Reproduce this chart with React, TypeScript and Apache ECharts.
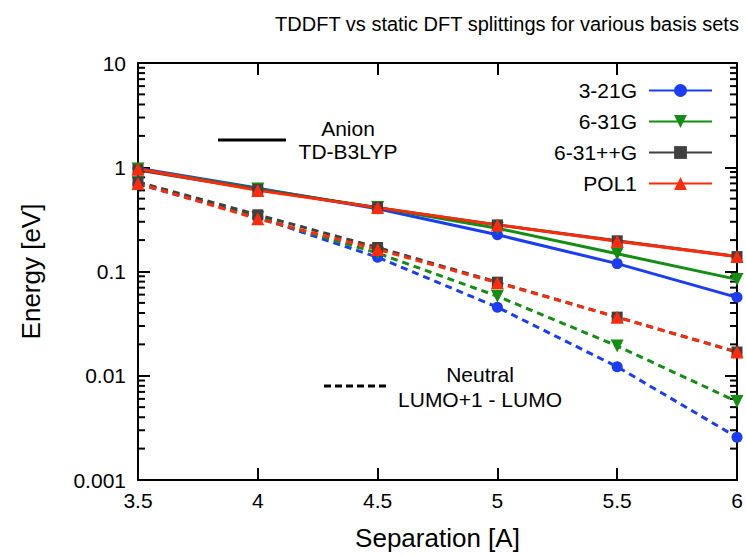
import React, { useEffect, useRef } from 'react';
import * as echarts from 'echarts';

const separations = [3.5, 4, 4.5, 5, 5.5, 6];
const basisNames = ['3-21G', '6-31G', '6-31++G', 'POL1'];

// Anion TD-B3LYP (solid)
const anion321G = [0.98, 0.63, 0.4, 0.225, 0.119, 0.0565];
const anion631G = [0.96, 0.62, 0.41, 0.26, 0.148, 0.084];
const anion631ppG = [0.94, 0.61, 0.41, 0.28, 0.197, 0.139];
const anionPOL1 = [0.96, 0.6, 0.41, 0.28, 0.195, 0.139];

// Neutral LUMO+1 - LUMO (dashed)
const neutral321G = [0.69, 0.33, 0.137, 0.0454, 0.0122, 0.00257];
const neutral631G = [0.71, 0.33, 0.15, 0.058, 0.0193, 0.00565];
const neutral631ppG = [0.72, 0.35, 0.17, 0.079, 0.0365, 0.0169];
const neutralPOL1 = [0.7, 0.32, 0.163, 0.078, 0.0365, 0.0169];

const anionSets = [anion321G, anion631G, anion631ppG, anionPOL1];
const neutralSets = [neutral321G, neutral631G, neutral631ppG, neutralPOL1];

const xTickLabels = ['3.5', '4', '4.5', '5', '5.5', '6'];
const yTickLabels = ['0.001', '0.01', '0.1', '1', '10'];
const yDecades = [0.001, 0.01, 0.1, 1];
const minorMultipliers = [2, 3, 4, 5, 6, 7, 8, 9];

const colors = ['#1a3cf5', '#138e13', '#404040', '#ff2a0a'];
const symbols = ['circle', 'triangle', 'rect', 'triangle'];
const symbolRotates = [0, 180, 0, 0];
const symbolSizes = [11, 13, 11, 13];

const FONT = 'Liberation Sans, Arial, sans-serif';

export default function App() {
  const ref = useRef<HTMLDivElement>(null);
  useEffect(() => {
    document.body.style.margin = '0';
    if (!ref.current) return;
    const chart = echarts.init(ref.current, undefined, { renderer: 'svg' });
    const xMin = 3.5;
    const xMax = 6;
    const minorTicks: number[] = [];
    yDecades.forEach((d) => minorMultipliers.forEach((m) => minorTicks.push(d * m)));

    const makeSeries = (sets: number[][], dashed: boolean) =>
      sets.map((vals, i) => ({
        type: 'line',
        name: dashed ? basisNames[i] + ' (neutral)' : basisNames[i],
        data: separations.map((x, j) => [x, vals[j]]),
        symbol: symbols[i],
        symbolRotate: symbolRotates[i],
        symbolSize: symbolSizes[i],
        showAllSymbol: true,
        clip: false,
        itemStyle: { color: colors[i] },
        lineStyle: { color: colors[i], width: 3, type: dashed ? [7, 5] : 'solid' },
        z: dashed ? 2 : 3,
      }));

    const axisLine = { show: true, lineStyle: { color: '#000', width: 2 } };
    const tick = { show: true, inside: true, length: 12, lineStyle: { color: '#000', width: 2 } };
    const txt = (text: string, x: number, y: number) => ({
      type: 'text',
      x,
      y,
      style: { text, fontFamily: FONT, fontSize: 21, fill: '#000', textAlign: 'center', textVerticalAlign: 'middle' },
    });

    chart.setOption({
      animation: false,
      backgroundColor: '#fff',
      title: {
        text: 'TDDFT vs static DFT splittings for various basis sets',
        left: 502,
        top: 9,
        textAlign: 'center',
        textStyle: { fontFamily: FONT, fontSize: 20, fontWeight: 'normal', color: '#000' },
      },
      legend: {
        data: basisNames,
        orient: 'vertical',
        right: 33,
        top: 80,
        padding: 0,
        align: 'right',
        itemWidth: 63,
        itemHeight: 16,
        itemGap: 10,
        textStyle: { fontFamily: FONT, fontSize: 21, color: '#000', padding: [0, 7, 0, 0] },
      },
      grid: { left: 138, right: 9, top: 63, bottom: 75, containLabel: false },
      xAxis: [
        {
          type: 'value',
          min: xMin,
          max: xMax,
          interval: 0.5,
          name: 'Separation [A]',
          nameLocation: 'middle',
          nameGap: 45,
          nameTextStyle: { fontFamily: FONT, fontSize: 26, color: '#000' },
          axisLine,
          axisTick: tick,
          splitLine: { show: false },
          axisLabel: {
            fontFamily: FONT,
            fontSize: 21,
            color: '#000',
            margin: 10,
            formatter: (v: number) => xTickLabels[Math.round((v - xMin) / 0.5)] ?? '',
          },
        },
        {
          type: 'value',
          position: 'top',
          min: xMin,
          max: xMax,
          interval: 0.5,
          axisLine,
          axisTick: tick,
          splitLine: { show: false },
          axisLabel: { show: false },
        },
      ],
      yAxis: [
        {
          type: 'log',
          logBase: 10,
          min: 0.001,
          max: 10,
          name: 'Energy [eV]',
          nameLocation: 'middle',
          nameGap: 94,
          nameTextStyle: { fontFamily: FONT, fontSize: 26, color: '#000' },
          axisLine,
          axisTick: tick,
          splitLine: { show: false },
          minorTick: { show: false },
          axisLabel: {
            fontFamily: FONT,
            fontSize: 21,
            color: '#000',
            margin: 12,
            formatter: (v: number) => yTickLabels[Math.round(Math.log10(v)) + 3] ?? '',
          },
        },
        {
          type: 'log',
          logBase: 10,
          min: 0.001,
          max: 10,
          position: 'right',
          axisLine,
          axisTick: tick,
          splitLine: { show: false },
          axisLabel: { show: false },
        },
      ],
      graphic: [
        {
          type: 'line',
          shape: { x1: 218, y1: 140, x2: 286, y2: 140 },
          style: { stroke: '#000', lineWidth: 3 },
        },
        txt('Anion', 348, 128),
        txt('TD-B3LYP', 348, 151),
        {
          type: 'line',
          shape: { x1: 324, y1: 386, x2: 388, y2: 386 },
          style: { stroke: '#000', lineWidth: 3, lineDash: [7, 4] },
        },
        txt('Neutral', 480, 374),
        txt('LUMO+1 - LUMO', 480, 399),
      ],
      series: [
        {
          type: 'custom',
          name: 'minorTicks',
          silent: true,
          data: minorTicks.map((v) => [v]),
          renderItem: (_params: any, api: any) => {
            const v = api.value(0);
            const l = api.coord([xMin, v]);
            const r = api.coord([xMax, v]);
            const st = { stroke: '#000', lineWidth: 2 };
            return {
              type: 'group',
              children: [
                { type: 'line', shape: { x1: l[0], y1: l[1], x2: l[0] + 7, y2: l[1] }, style: st },
                { type: 'line', shape: { x1: r[0], y1: r[1], x2: r[0] - 7, y2: r[1] }, style: st },
              ],
            };
          },
          encode: { y: 0 },
          z: 1,
        },
        ...makeSeries(neutralSets, true),
        ...makeSeries(anionSets, false),
      ],
    } as any);
    return () => chart.dispose();
  }, []);
  return <div ref={ref} style={{ width: 746, height: 556 }} />;
}
